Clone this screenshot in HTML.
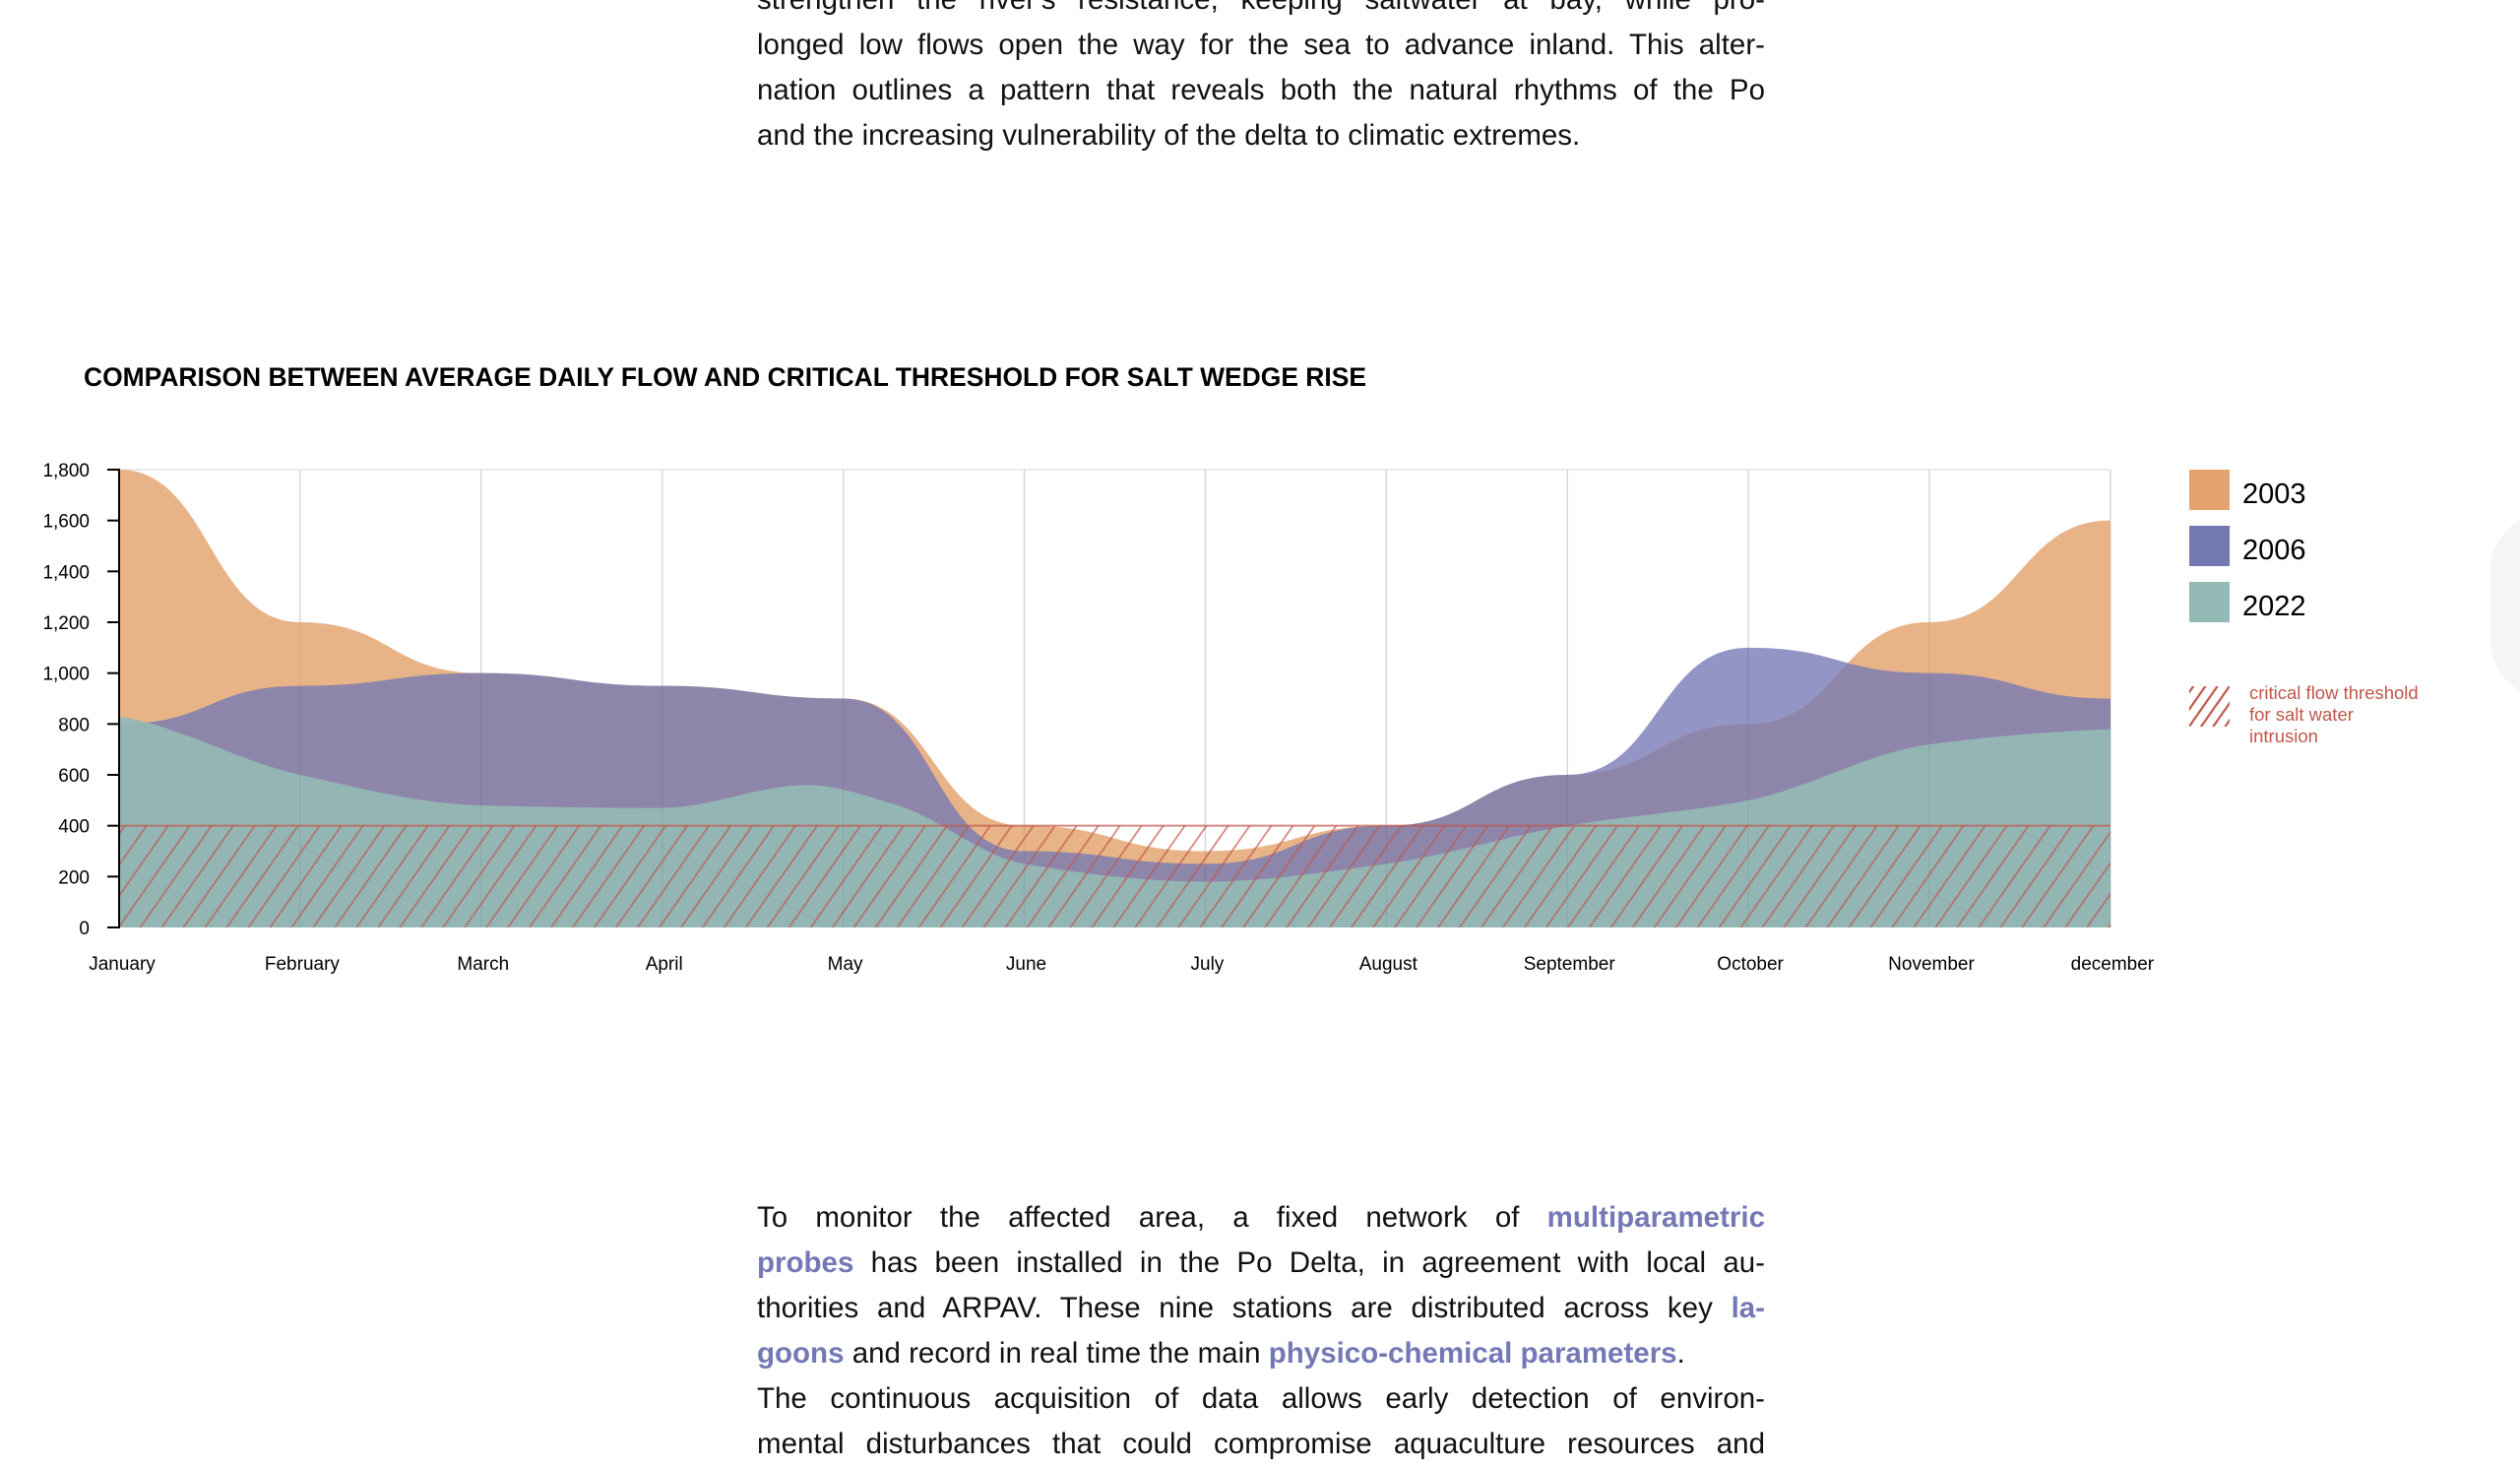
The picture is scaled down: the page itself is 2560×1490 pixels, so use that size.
<!DOCTYPE html>
<html><head><meta charset="utf-8">
<style>
html,body{margin:0;padding:0;background:#fff;}
body{width:2560px;height:1463px;overflow:hidden;position:relative;font-family:"Liberation Sans",sans-serif;color:#111;}
.p{position:absolute;left:769px;width:1024px;font-size:29.5px;line-height:46px;}
.p div{white-space:nowrap;text-align:justify;text-align-last:justify;height:46px;}
.p div.l{text-align-last:left;}
.p b{color:#7478b5;}
.circ{position:absolute;left:2530px;top:520px;width:120px;height:190px;border-radius:60px;background:#f4f5f7;}
</style></head><body>
<div class="p" style="top:-23px">
<div>strengthen the river's resistance, keeping saltwater at bay, while pro-</div>
<div>longed low flows open the way for the sea to advance inland. This alter-</div>
<div>nation outlines a pattern that reveals both the natural rhythms of the Po</div>
<div class="l">and the increasing vulnerability of the delta to climatic extremes.</div>
</div>
<div class="p" style="top:1214px">
<div>To monitor the affected area, a fixed network of <b>multiparametric</b></div>
<div><b>probes</b> has been installed in the Po Delta, in agreement with local au-</div>
<div>thorities and ARPAV. These nine stations are distributed across key <b>la-</b></div>
<div class="l"><b>goons</b> and record in real time the main <b>physico-chemical parameters</b>.</div>
<div>The continuous acquisition of data allows early detection of environ-</div>
<div>mental disturbances that could compromise aquaculture resources and</div>
</div>
<div class="circ"></div>
<svg id="c" width="2560" height="1463" style="position:absolute;left:0;top:0" xmlns="http://www.w3.org/2000/svg">
<defs>
<pattern id="h" patternUnits="userSpaceOnUse" width="18" height="18" patternTransform="rotate(35)">
<line x1="9" y1="-1" x2="9" y2="19" stroke="#c0574a" stroke-width="1.8" stroke-opacity="0.7"/>
</pattern>
<pattern id="h2" patternUnits="userSpaceOnUse" width="10" height="10" patternTransform="rotate(35)">
<line x1="5" y1="-1" x2="5" y2="11" stroke="#c0574a" stroke-width="2.2"/>
</pattern>
</defs>
<text x="85" y="392" font-size="26.5" font-weight="bold" textLength="1303" lengthAdjust="spacingAndGlyphs">COMPARISON BETWEEN AVERAGE DAILY FLOW AND CRITICAL THRESHOLD FOR SALT WEDGE RISE</text>
<g id="grid"></g>
<g id="areas"></g>
<g id="axis"></g>
<rect x="2224" y="477" width="41" height="41" fill="#e4a26f"/>
<rect x="2224" y="534" width="41" height="41" fill="#7478b0"/>
<rect x="2224" y="591" width="41" height="41" fill="#93bab5"/>
<text x="2278" y="511" font-size="29">2003</text>
<text x="2278" y="568" font-size="29">2006</text>
<text x="2278" y="625" font-size="29">2022</text>
<rect x="2224" y="697" width="41" height="41" fill="url(#h2)"/>
<g fill="#c0574a" font-size="18.5">
<text x="2285" y="710">critical flow threshold</text>
<text x="2285" y="732">for salt water</text>
<text x="2285" y="754">intrusion</text>
</g>
</svg>
<script>
var X0=121,DX=183.9,Y0=942,K=465/1800;
function x(i){return X0+i*DX;}function y(v){return Y0-v*K;}
function close(s){return s+" L"+x(11)+","+Y0+" L"+x(0)+","+Y0+" Z";}
function flat(d){var s="M"+x(d[0][0])+","+y(d[0][1]);
for(var i=1;i<d.length;i++){var a=d[i-1],b=d[i];var ax=x(a[0]),bx=x(b[0]),m=(bx-ax)/2;
s+=" C"+(ax+m)+","+y(a[1])+" "+(bx-m)+","+y(b[1])+" "+bx+","+y(b[1]);}
return close(s);}
function path(d){
var n=d.length,P=d.map(function(a){return [x(a[0]),y(a[1])];}),m=[],dl=[];
for(var i=0;i<n-1;i++)dl.push((P[i+1][1]-P[i][1])/(P[i+1][0]-P[i][0]));
for(var i=0;i<n;i++){
 if(i==0)m.push(dl[0]*0.5);else if(i==n-1)m.push(dl[n-2]*0.5);
 else if(dl[i-1]*dl[i]<=0)m.push(0);
 else {var h0=P[i][0]-P[i-1][0],h1=P[i+1][0]-P[i][0];
  m.push(3*(h0+h1)/((2*h1+h0)/dl[i-1]+(h1+2*h0)/dl[i]));}
}
var s="M"+P[0][0]+","+P[0][1];
for(var i=1;i<n;i++){var a=P[i-1],b=P[i],h=(b[0]-a[0])/3;
s+=" C"+(a[0]+h)+","+(a[1]+h*m[i-1])+" "+(b[0]-h)+","+(b[1]-h*m[i])+" "+b[0]+","+b[1];}
return close(s);}
var o=[[0,1800],[1,1200],[2,1000],[3,950],[4,900],[5,400],[6,300],[7,400],[8,600],[9,800],[10,1200],[11,1600]];
var p=[[0,800],[1,950],[2,1000],[3,950],[4,900],[5,300],[6,250],[7,400],[8,600],[9,1100],[10,1000],[11,900]];
var t=[[0,830],[1,600],[2,480],[3,470],[3.8,560],[4.3,480],[5,250],[6,180],[7,250],[8,400],[9,500],[10,720],[11,780]];
var ns="http://www.w3.org/2000/svg";
function add(g,tag,at){var e=document.createElementNS(ns,tag);for(var k in at)e.setAttribute(k,at[k]);document.getElementById(g).appendChild(e);return e;}
add("grid","line",{x1:X0,y1:477,x2:x(11),y2:477,stroke:"#ececec","stroke-width":2});
for(var i=1;i<12;i++)add("grid","line",{x1:x(i),y1:477,x2:x(i),y2:Y0,stroke:"#e3e3e3","stroke-width":1.5});
add("areas","path",{d:flat(o),fill:"#e8b387"});
add("areas","path",{d:flat(p),fill:"#7478b5","fill-opacity":0.78});
add("areas","path",{d:path(t),fill:"#93b7b4","fill-opacity":0.95});
for(var i=1;i<12;i++)add("areas","line",{x1:x(i),y1:477,x2:x(i),y2:Y0,stroke:"#000","stroke-opacity":0.05,"stroke-width":1.5});
add("areas","rect",{x:X0,y:y(400),width:x(11)-X0,height:400*K,fill:"url(#h)"});
add("areas","line",{x1:X0,y1:y(400),x2:x(11),y2:y(400),stroke:"#c0574a","stroke-width":2,"stroke-opacity":0.7});
add("axis","line",{x1:X0,y1:476,x2:X0,y2:Y0+1,stroke:"#000","stroke-width":2});
for(var v=0;v<=1800;v+=200){add("axis","line",{x1:109,y1:y(v),x2:X0,y2:y(v),stroke:"#000","stroke-width":2});
var e=add("axis","text",{x:91,y:y(v)+7,"font-size":19,"text-anchor":"end"});e.textContent=v.toLocaleString("en-US");}
var M=["January","February","March","April","May","June","July","August","September","October","November","december"];
for(var i=0;i<12;i++){var e=add("axis","text",{x:x(i)+(i==0?3:2),y:985,"font-size":19,"text-anchor":"middle"});e.textContent=M[i];}
</script>
</body></html>
